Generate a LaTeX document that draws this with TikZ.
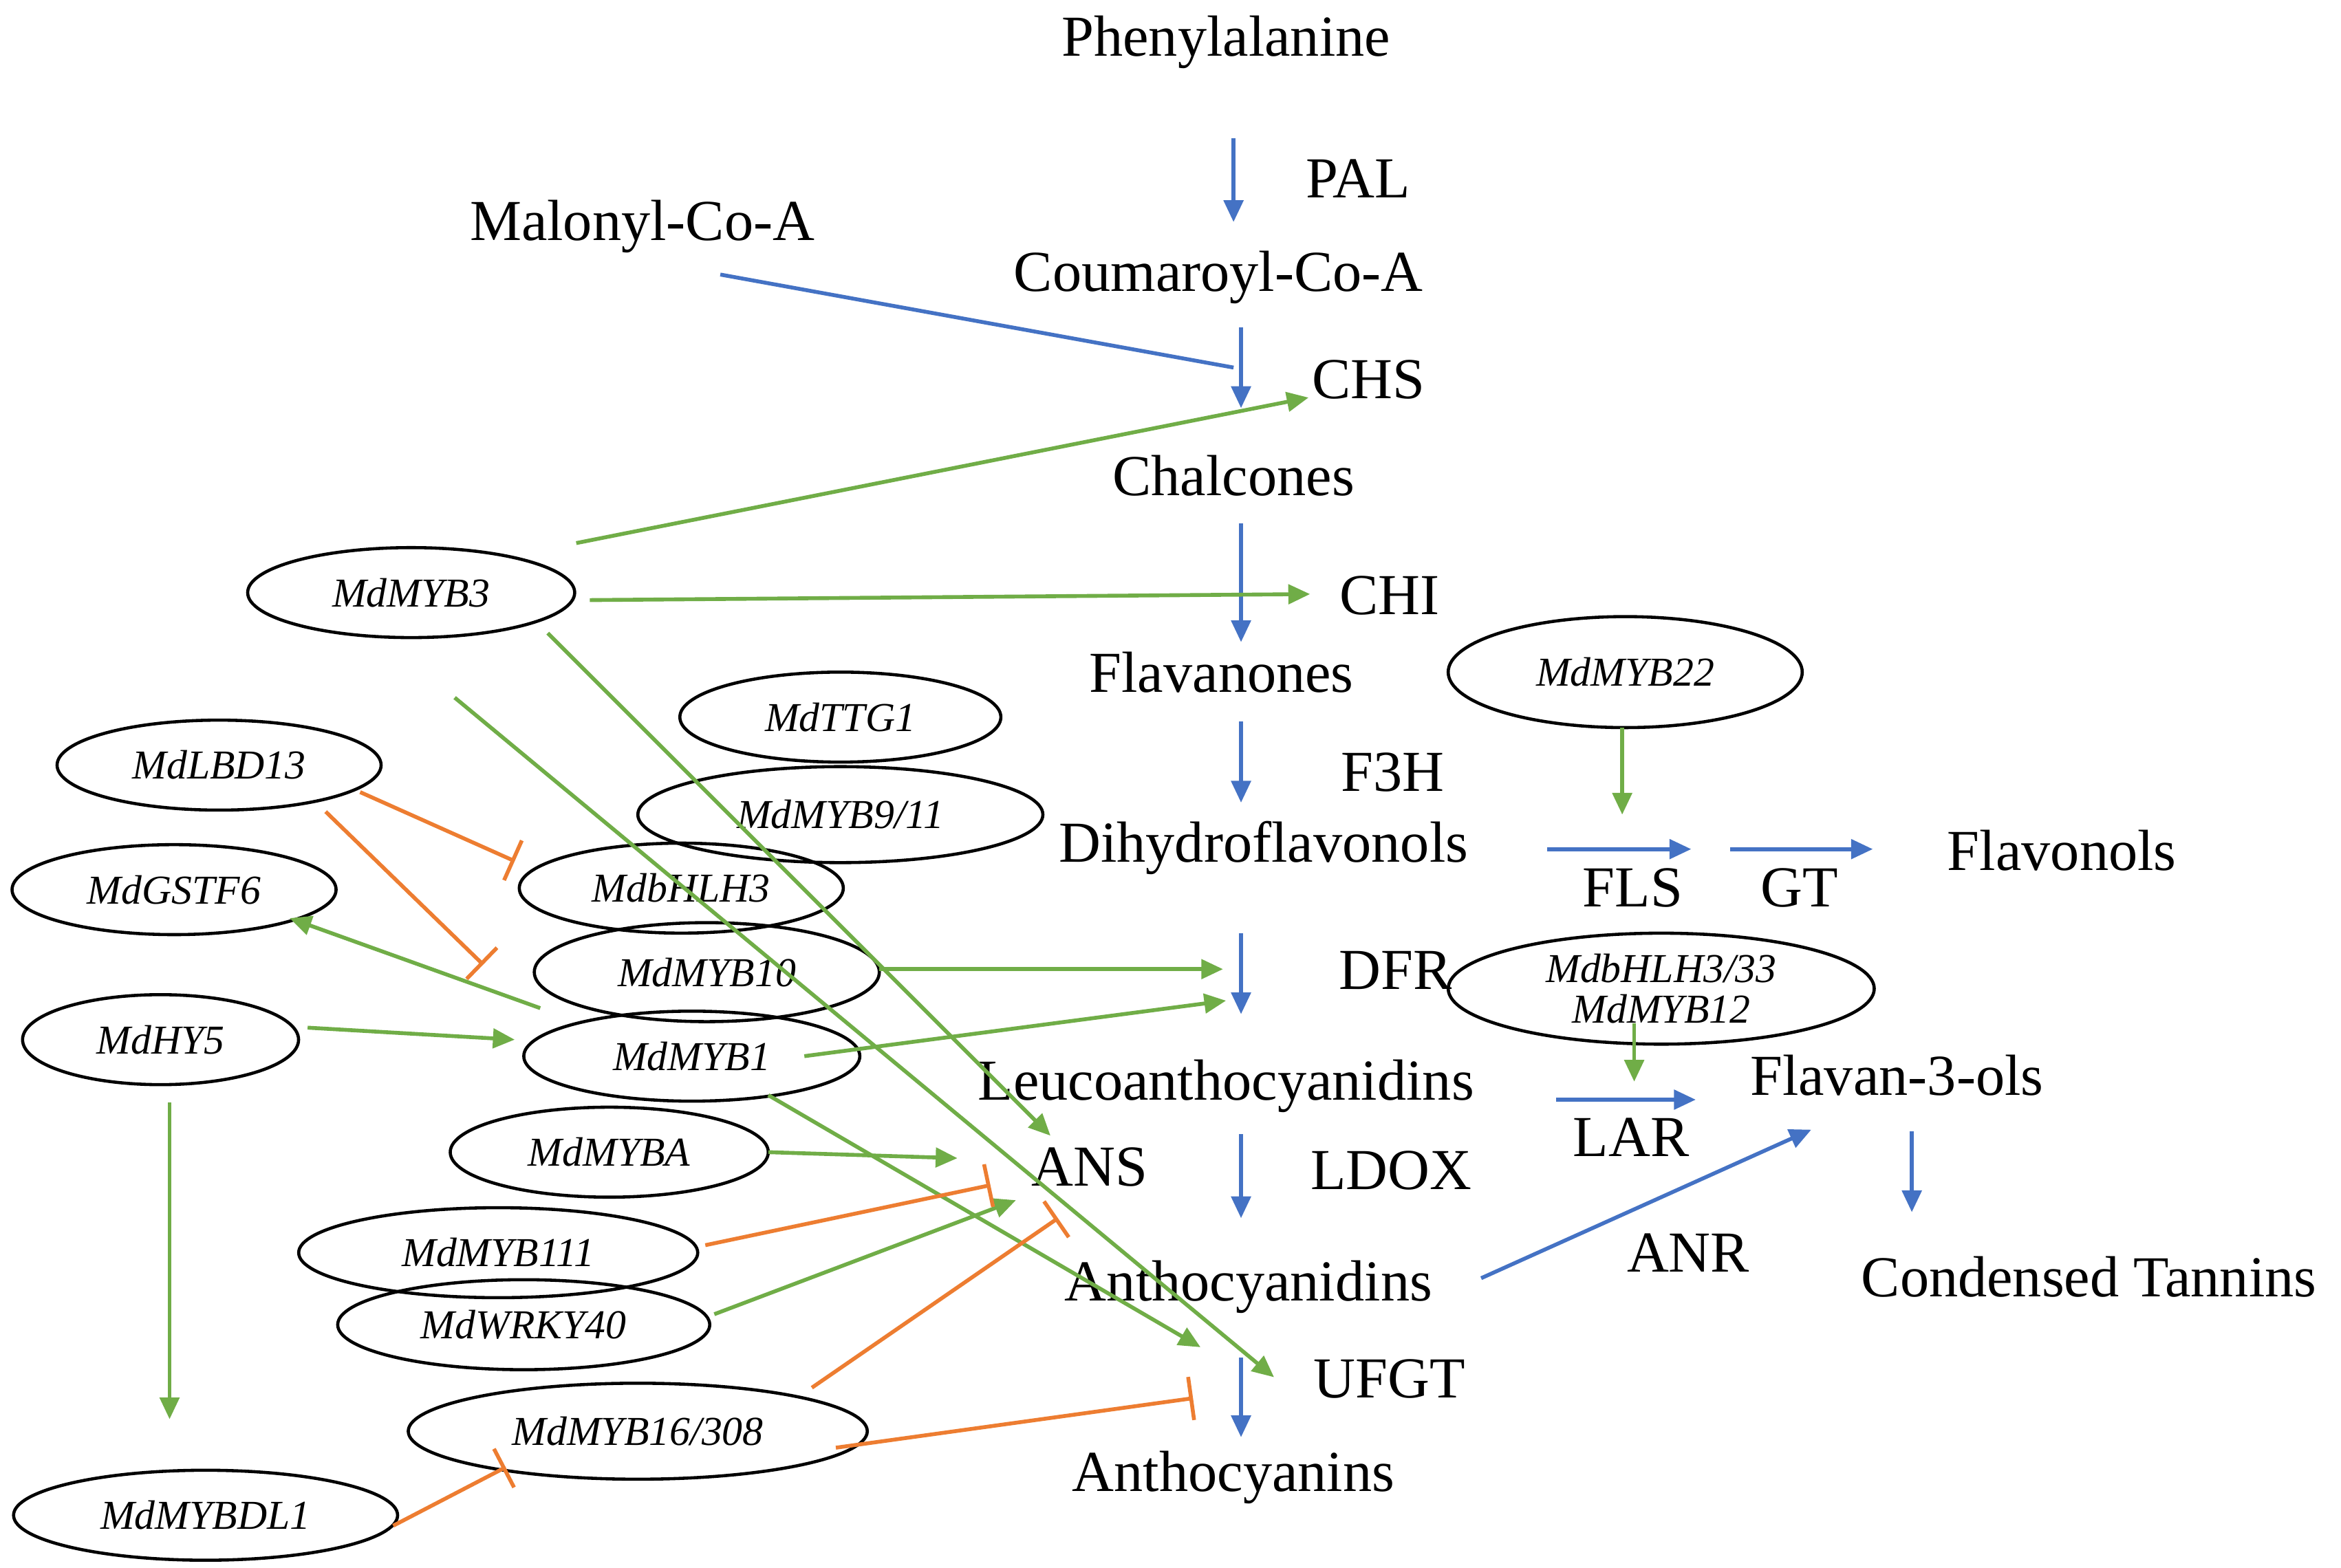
\documentclass[tikz,border=0pt]{standalone}
\usepackage{fontspec}
\setmainfont{Liberation Serif}
\usetikzlibrary{arrows.meta,shapes.geometric}
\definecolor{cb}{RGB}{68,114,196}
\definecolor{cg}{RGB}{112,173,71}
\definecolor{co}{RGB}{237,125,49}
\begin{document}
\begin{tikzpicture}[x=0.021814cm,y=-0.021814cm,
 t/.style={font=\fontsize{24}{26}\selectfont,inner sep=0pt},
 e/.style={draw,line width=1.3pt,ellipse,inner sep=0pt,font=\fontsize{17}{19}\selectfont\itshape,align=center},
 b/.style={cb,line width=1.6pt,-{Triangle[length=9pt,width=8pt]}},
 g/.style={cg,line width=1.6pt,-{Triangle[length=9pt,width=8pt]}},
 o/.style={co,line width=1.6pt,-{Bar[width=18pt]}}]
\useasboundingbox (0,0) rectangle (1560,1045);
\node[t] (phe) at (817,28) {Phenylalanine};
\node[t] (pal) at (905,119) {PAL};
\node[t] (mal) at (428,151) {Malonyl-Co-A};
\node[t] (cou) at (812,185) {Coumaroyl-Co-A};
\node[t] (chs) at (912,253) {CHS};
\node[t] (cha) at (822,317) {Chalcones};
\node[t] (chi) at (926,397) {CHI};
\node[t] (fla) at (814,448) {Flavanones};
\node[t] (f3h) at (928,515) {F3H};
\node[t] (dih) at (842,565) {Dihydroflavonols};
\node[t] (fls) at (1088,592) {FLS};
\node[t] (gt) at (1199,592) {GT};
\node[t] (flo) at (1374,567) {Flavonols};
\node[t] (dfr) at (930,647) {DFR};
\node[t] (leu) at (817,724) {Leucoanthocyanidins};
\node[t] (lar) at (1087,758) {LAR};
\node[t] (f3o) at (1264,717) {Flavan-3-ols};
\node[t] (ans) at (726,778) {ANS};
\node[t] (ldox) at (927,780) {LDOX};
\node[t] (anr) at (1125,835) {ANR};
\node[t] (ant) at (832,858) {Anthocyanidins};
\node[t] (ct) at (1392,851) {Condensed Tannins};
\node[t] (ufgt) at (926,919) {UFGT};
\node[t] (acy) at (822,985) {Anthocyanins};

\def\E#1#2#3#4#5#6{\node[e,minimum width=#4*0.043628cm,minimum height=#5*0.043628cm] (#1) at (#2,#3) {#6};}
\E{m3}{274}{395}{109}{30}{MdMYB3}
\E{m22}{1083}{448}{118}{37}{MdMYB22}
\E{ttg}{560}{478}{107}{30}{MdTTG1}
\E{lbd}{146}{510}{108}{30}{MdLBD13}
\E{gst}{116}{593}{108}{30}{MdGSTF6}
\E{bh}{454}{592}{108}{30}{MdbHLH3}
\E{m9}{560}{543}{135}{32}{MdMYB9/11}
\E{m10}{471}{648}{115}{33}{MdMYB10}
\E{m12}{1107}{659}{142}{37}{MdbHLH3/33\\[-2pt]MdMYB12}
\E{hy5}{107}{693}{92}{30}{MdHY5}
\E{m1}{461}{704}{112}{30}{MdMYB1}
\E{ma}{406}{768}{106}{30}{MdMYBA}
\E{m111}{332}{835}{133}{30}{MdMYB111}
\E{wr}{349}{883}{124}{30}{MdWRKY40}
\E{m16}{425}{954}{153}{32}{MdMYB16/308}
\E{dl1}{137}{1010}{128}{30}{MdMYBDL1}

\draw[b] (822,92)--(822,148);
\draw[cb,line width=1.6pt] (480,183)--(822,245);
\draw[b] (827,218)--(827,272);
\draw[b] (827,349)--(827,428);
\draw[b] (827,481)--(827,535);
\draw[b] (1031,566)--(1127,566);
\draw[b] (1153,566)--(1248,566);
\draw[b] (827,622)--(827,676);
\draw[b] (1037,733)--(1130,733);
\draw[b] (827,756)--(827,812);
\draw[b] (987,852)--(1207,753);
\draw[b] (1274,754)--(1274,808);
\draw[b] (827,905)--(827,958);

\draw[g] (384,362)--(872,265);
\draw[g] (393,400)--(873,396);
\draw[g] (365,422)--(700,757);
\draw[g] (303,465)--(849,918);
\draw[g] (1081,485)--(1081,543);
\draw[g] (1089,682)--(1089,721);
\draw[g] (586,646)--(815,646);
\draw[g] (360,672)--(193,612);
\draw[g] (205,685)--(343,693);
\draw[g] (536,704)--(817,667);
\draw[g] (512,730)--(800,898);
\draw[g] (512,768)--(638,772);
\draw[g] (476,876)--(677,800);
\draw[g] (113,735)--(113,946);

\draw[o] (240,528)--(343,574);
\draw[o] (217,541)--(322,643);
\draw[o] (470,830)--(660,790);
\draw[o] (541,925)--(705,812);
\draw[o] (557,965)--(795,932);
\draw[o] (262,1017)--(337,978);
\end{tikzpicture}
\end{document}
